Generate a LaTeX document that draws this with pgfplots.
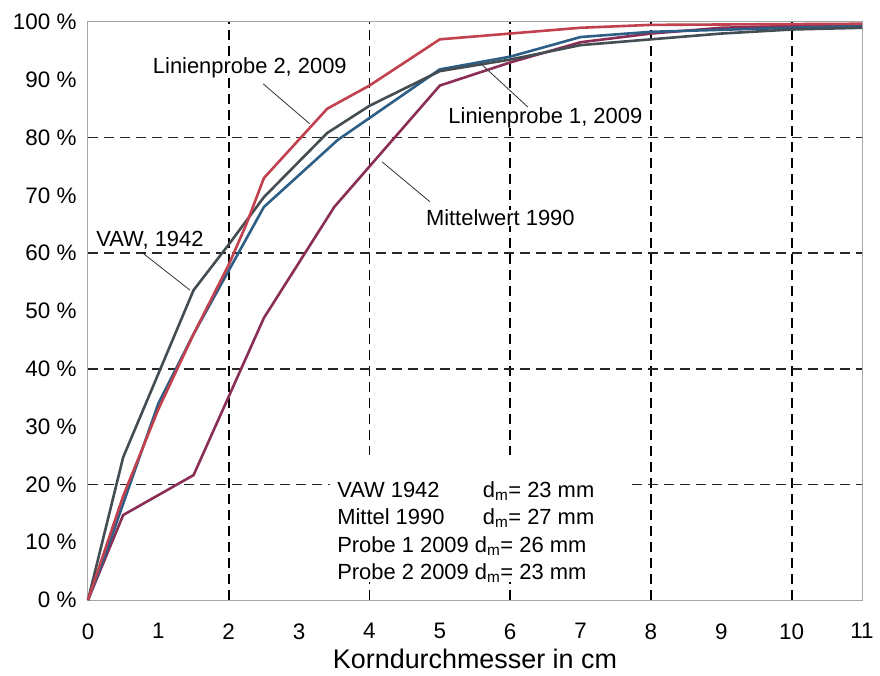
\documentclass[border=0pt]{standalone}
\usepackage{fontspec}
\setmainfont{Liberation Sans}
\usepackage{pgfplots}
\pgfplotsset{compat=1.18}
\usetikzlibrary{calc}
\definecolor{cvaw}{HTML}{434D52}
\definecolor{cred}{HTML}{C2414F}
\definecolor{cblue}{HTML}{2D5E86}
\definecolor{cmit}{HTML}{8A2E56}
\begin{document}
\begin{tikzpicture}
\begin{axis}[
  scale only axis, width=774bp, height=578bp,
  xmin=0, xmax=11, ymin=0, ymax=100,
  xtick={0,...,11}, ytick={0,10,...,100},
  extra x ticks={2,4,6,8,10}, extra x tick labels={},
  extra x tick style={grid=major, major grid style={black, line width=1.9bp, dash pattern=on 10bp off 6bp}},
  extra y ticks={20,40,60,80}, extra y tick labels={},
  extra y tick style={grid=major, major grid style={black!85, line width=1.5bp, dash pattern=on 10bp off 6bp}},
  major tick length=0pt,
  axis line style={black!35, line width=1bp},
  tick label style={font=\fontsize{22.5}{26}\selectfont},
  /pgf/number format/assume math mode=true,
  yticklabel={\pgfmathprintnumber{\tick}~\%},
  yticklabel style={xshift=-8bp},
  xticklabel style={yshift=-20bp},
  xlabel={Korndurchmesser in cm},
  xlabel style={font=\fontsize{27}{32}\selectfont, yshift=-3bp},
  clip=false,
  every axis plot/.append style={line width=2.6bp, line join=round},
]
% Mittelwert 1990
\addplot[cmit] coordinates {(0,0) (0.5,14.7) (1.5,21.6) (2.5,48.8) (3.5,68) (5,89) (6,93) (7,96.5) (8,98) (9,99) (10,99.3) (11,99.5)};
% Linienprobe 1, 2009
\addplot[cblue] coordinates {(0,0) (0.25,8) (1,34) (1.5,46) (2,57) (2.5,68) (3.55,79.6) (5,91.8) (6,94) (7,97.4) (8,98.3) (10,99) (11,99.3)};
% VAW 1942
\addplot[cvaw] coordinates {(0,0) (0.5,24.7) (1.5,53.6) (2,61.5) (2.5,69.7) (3.4,80.8) (4,85.5) (5,91.5) (6,93.5) (7,96) (8,97) (9,98) (10,98.7) (11,99)};
% Linienprobe 2, 2009
\addplot[cred] coordinates {(0,0) (0.5,18) (1,33) (1.5,46) (2,58) (2.25,65) (2.5,73) (3.4,85) (4,89) (5,97) (7,99) (8,99.5) (11,99.7)};

% annotations
\draw[black!80, line width=0.8bp] (axis cs:2.49,89.3) -- (axis cs:3.15,82.4);
\draw[black!80, line width=0.8bp] (axis cs:5.6,92.6) -- (axis cs:6.25,85.3);
\draw[black!80, line width=0.8bp] (axis cs:4.18,75.8) -- (axis cs:4.86,68.9);
\draw[black!80, line width=0.8bp] (axis cs:0.78,60) -- (axis cs:1.45,53.6);
\begin{scope}[every node/.style={font=\fontsize{22}{26}\selectfont, inner sep=0pt}]
\node[fill=white] at (axis cs:2.30,92.0) {Linienprobe 2, 2009};
\node[fill=white] at (axis cs:6.50,83.4) {Linienprobe 1, 2009};
\node[fill=white] at (axis cs:5.86,66.1) {Mittelwert 1990};
\node at (axis cs:0.88,62.3) {VAW, 1942};
\fill[white] (axis cs:3.44,3.1) rectangle (axis cs:7.7,25.1);
\node[anchor=base west] at (axis cs:3.54,17.8) {VAW 1942};
\node[anchor=base west] at (axis cs:5.61,17.8) {d\textsubscript{m}= 23 mm};
\node[anchor=base west] at (axis cs:3.54,13.0) {Mittel 1990};
\node[anchor=base west] at (axis cs:5.61,13.0) {d\textsubscript{m}= 27 mm};
\node[anchor=base west] at (axis cs:3.54,8.25) {Probe 1 2009 d\textsubscript{m}= 26 mm};
\node[anchor=base west] at (axis cs:3.54,3.5) {Probe 2 2009 d\textsubscript{m}= 23 mm};
\end{scope}
\coordinate (sw) at (rel axis cs:0,0);
\coordinate (ne) at (rel axis cs:1,1);
\end{axis}
\pgfresetboundingbox
\path ($(sw)+(-88bp,-76bp)$) rectangle ($(ne)+(18bp,22bp)$);
\end{tikzpicture}
\end{document}
